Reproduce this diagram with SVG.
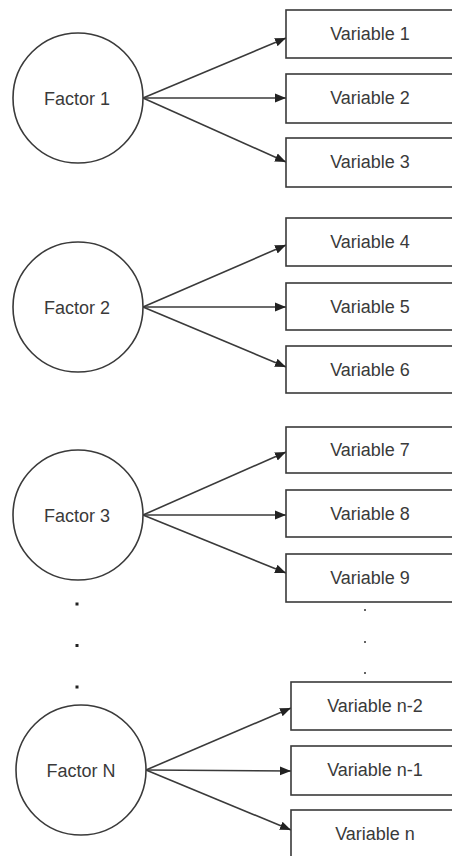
<svg xmlns="http://www.w3.org/2000/svg" width="452" height="856" viewBox="0 0 452 856">
  <style>
    .factor circle { fill: #ffffff; stroke: #3a3a3a; stroke-width: 1.6; }
    .var rect { fill: #ffffff; stroke: #3a3a3a; stroke-width: 1.6; }
    text { font-family: "Liberation Sans", Arial, sans-serif; font-size: 18px; fill: #3a3a3a; text-anchor: middle; dominant-baseline: central; }
    #connectors line { stroke: #3a3a3a; stroke-width: 1.6; marker-end: url(#arrow); }
    .dot { fill: #222222; }
  </style>
  <defs>
    <marker id="arrow" viewBox="0 0 10 10" refX="10" refY="5" markerWidth="11" markerHeight="11" markerUnits="userSpaceOnUse" orient="auto">
      <path d="M0,1 L10,5 L0,9 Z" fill="#222222"/>
    </marker>
  </defs>
  <rect width="452" height="856" fill="#ffffff"/>

  <!-- connectors -->
  <g id="connectors">
    <line x1="143" y1="98" x2="286" y2="38"/>
    <line x1="143" y1="98" x2="286" y2="98"/>
    <line x1="143" y1="98" x2="286" y2="162"/>

    <line x1="143" y1="307" x2="286" y2="245"/>
    <line x1="143" y1="307" x2="286" y2="307"/>
    <line x1="143" y1="307" x2="286" y2="367"/>

    <line x1="143" y1="515" x2="286" y2="452"/>
    <line x1="143" y1="515" x2="286" y2="515"/>
    <line x1="143" y1="515" x2="286" y2="573"/>

    <line x1="146" y1="770" x2="291" y2="708"/>
    <line x1="146" y1="770" x2="291" y2="771"/>
    <line x1="146" y1="770" x2="291" y2="830"/>
  </g>

  <!-- factors -->
  <g id="factor1" class="factor"><circle cx="78" cy="98" r="65"/><text x="77" y="99">Factor 1</text></g>
  <g id="factor2" class="factor"><circle cx="78" cy="307" r="65"/><text x="77" y="308">Factor 2</text></g>
  <g id="factor3" class="factor"><circle cx="78" cy="515" r="65"/><text x="77" y="516">Factor 3</text></g>
  <g id="factorN" class="factor"><circle cx="81" cy="770" r="65"/><text x="81" y="771">Factor N</text></g>

  <!-- variables -->
  <g id="var1" class="var"><rect x="286" y="10" width="168" height="48"/><text x="370" y="34">Variable 1</text></g>
  <g id="var2" class="var"><rect x="286" y="74" width="168" height="49"/><text x="370" y="98">Variable 2</text></g>
  <g id="var3" class="var"><rect x="286" y="138" width="168" height="49"/><text x="370" y="162">Variable 3</text></g>

  <g id="var4" class="var"><rect x="286" y="218" width="168" height="48"/><text x="370" y="242">Variable 4</text></g>
  <g id="var5" class="var"><rect x="286" y="283" width="168" height="47"/><text x="370" y="307">Variable 5</text></g>
  <g id="var6" class="var"><rect x="286" y="346" width="168" height="47"/><text x="370" y="370">Variable 6</text></g>

  <g id="var7" class="var"><rect x="286" y="427" width="168" height="46"/><text x="370" y="450">Variable 7</text></g>
  <g id="var8" class="var"><rect x="286" y="490" width="168" height="47"/><text x="370" y="514">Variable 8</text></g>
  <g id="var9" class="var"><rect x="286" y="554" width="168" height="48"/><text x="370" y="578">Variable 9</text></g>

  <g id="varN2" class="var"><rect x="291" y="682" width="168" height="48"/><text x="375" y="706">Variable n-2</text></g>
  <g id="varN1" class="var"><rect x="291" y="746" width="168" height="49"/><text x="375" y="770">Variable n-1</text></g>
  <g id="varN" class="var"><rect x="291" y="810" width="168" height="50"/><text x="375" y="834">Variable n</text></g>

  <!-- ellipsis dots -->
  <g id="ellipsis-factors">
    <rect class="dot" x="75.5" y="602.5" width="3" height="3"/>
    <rect class="dot" x="75.5" y="644" width="3" height="3"/>
    <rect class="dot" x="75.5" y="685.5" width="3" height="3"/>
  </g>
  <g id="ellipsis-variables">
    <rect class="dot" x="364" y="609" width="2" height="2" fill-opacity="0.7"/>
    <rect class="dot" x="364" y="641" width="2" height="2" fill-opacity="0.7"/>
    <rect class="dot" x="364" y="672" width="2" height="2" fill-opacity="0.7"/>
  </g>
</svg>
